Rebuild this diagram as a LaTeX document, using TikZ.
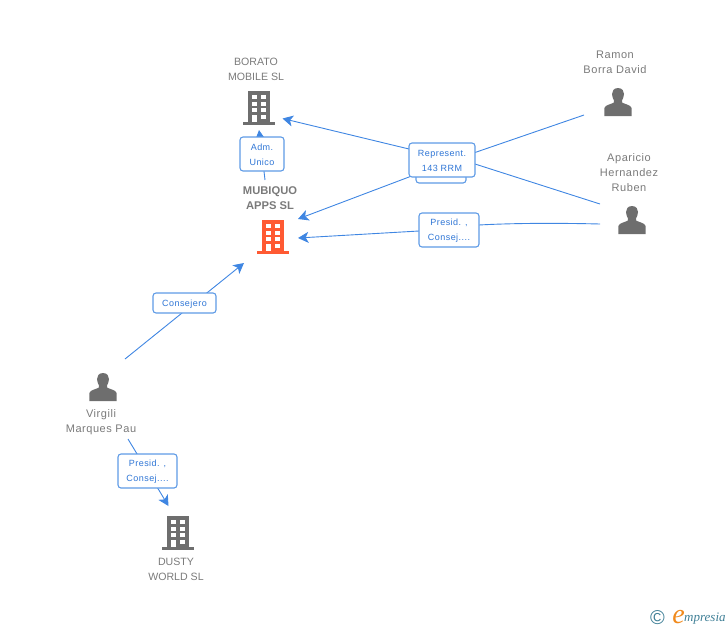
\documentclass[tikz,border=0pt]{standalone}
\usepackage{fontspec}
\setmainfont{Liberation Sans}
\newfontfamily\labfont[LetterSpace=5]{Liberation Sans}
\newfontfamily\namefont[LetterSpace=5]{Liberation Sans}
\newfontfamily\logofont{Liberation Serif}
\usetikzlibrary{arrows.meta}
\definecolor{linkblue}{HTML}{3F86E2}
\definecolor{boxblue}{HTML}{5F9BE6}
\definecolor{labblue}{HTML}{2F76D6}
\definecolor{icongray}{HTML}{6E6E6E}
\definecolor{namegray}{HTML}{7A7A7A}
\definecolor{iconred}{HTML}{FF5A33}
\definecolor{logoteal}{HTML}{3F7F96}
\definecolor{logoorange}{HTML}{F08A1D}
\newcommand{\tagline}[1]{\raisebox{-1pt}[\height][\depth]{#1}}
\tikzset{
  x=1pt,y=-1pt,
  link/.style={draw=linkblue,line width=0.9pt,line join=round},
  arrowtip/.style={-{Stealth[inset=2.8pt,length=10.5pt,width=11pt]}},
  tagbox/.style={draw=boxblue,line width=1.1pt,fill=white,rounded corners=3pt,inner sep=0pt,
    align=center,text=labblue,font=\labfont\fontsize{9}{15}\selectfont},
  ename/.style={align=center,text=namegray,inner sep=0pt,font=\fontsize{10.6}{15}\selectfont},
  pname/.style={ename,font=\namefont\fontsize{11}{15}\selectfont},
  bname/.style={ename,font=\bfseries\fontsize{11.2}{15}\selectfont},
  anchorbox/.style={inner sep=0pt,minimum width=32pt,minimum height=33pt},
  pics/building/.style={code={
    \fill[#1] (-11,-17) rectangle (11,14);
    \fill[#1] (-16,14) rectangle (16,16.5);
    \foreach \r in {-13,-6.5,0}{
      \fill[white] (-7,\r) rectangle (-2.2,\r+4);
      \fill[white] (2.4,\r) rectangle (7.2,\r+4);
    }
    \fill[white] (-7,6.5) rectangle (-2.2,14);
    \fill[white] (2.4,6.5) rectangle (7.2,11);
  }},
  pics/person/.style={code={
    \fill[icongray] (0,-14) .. controls (-4.5,-14) and (-6,-10.5) .. (-6,-8)
      .. controls (-6,-5) and (-4.8,-3.5) .. (-4.2,-2) -- (-4.2,0.5)
      .. controls (-7,2.5) and (-12.5,2.5) .. (-13.6,6) -- (-13.6,14) -- (13.6,14) -- (13.6,6)
      .. controls (12.5,2.5) and (7,2.5) .. (4.2,0.5) -- (4.2,-2)
      .. controls (4.8,-3.5) and (6,-5) .. (6,-8)
      .. controls (6,-10.5) and (4.5,-14) .. (0,-14) -- cycle;
  }}
}
\begin{document}
\begin{tikzpicture}
\useasboundingbox (0,0) rectangle (728,630);

% entities
\node[anchorbox] (borato) at (259,108) {};
\pic at (borato.center) {building={icongray}};
\node[anchorbox] (mubiquo) at (273,237) {};
\pic at (mubiquo.center) {building={iconred}};
\node[anchorbox] (dusty) at (178,533) {};
\pic at (dusty.center) {building={icongray}};
\node[anchorbox] (ramon) at (618,102) {};
\pic at (ramon.center) {person};
\node[anchorbox] (aparicio) at (632,220) {};
\pic at (aparicio.center) {person};
\node[anchorbox] (virgili) at (103,387) {};
\pic at (virgili.center) {person};

% names
\node[ename] (boratoname) at (256,69.5) {BORATO\\MOBILE SL};
\node[bname] (mubiquoname) at (270,198.5) {MUBIQUO\\APPS SL};
\node[ename] (dustyname) at (176,569.5) {DUSTY\\WORLD SL};
\node[pname] (ramonname) at (615,62.5) {Ramon\\Borra David};
\node[pname] (apariconame) at (629,173) {Aparicio\\Hernandez\\Ruben};
\node[pname] (virgiliname) at (101,422.5) {Virgili\\Marques Pau};

% connector ends
\coordinate (ramonOut) at (584,115);
\coordinate (aparicioOutA) at (600,204);
\coordinate (aparicioOutB) at (600,224);
\coordinate (virgiliOutA) at (125,359);
\coordinate (virgiliOutB) at (128,439);
\coordinate (mubiquoOut) at (265,180);
\coordinate (boratoInA) at (282.5,118.5);
\coordinate (boratoInB) at (259,130);
\coordinate (mubiquoInA) at (298,219);
\coordinate (mubiquoInB) at (298,238);
\coordinate (mubiquoInC) at (244,263);
\coordinate (dustyIn) at (168.5,506);
\coordinate (repE1) at (475,152.5);
\coordinate (repW1) at (409,177);
\coordinate (repE2) at (475,164);
\coordinate (repW2) at (409,149);
\coordinate (preE) at (479,225);
\coordinate (preW) at (419,231);
\coordinate (admC) at (262,154);

% connectors
\draw[link,arrowtip] (ramonOut) -- (repE1) -- (repW1) -- (mubiquoInA);
\draw[link,arrowtip] (aparicioOutA) -- (repE2) -- (repW2) -- (boratoInA);
\draw[link,arrowtip] (aparicioOutB) .. controls (560,223) and (515,223) .. (preE) -- (preW) -- (mubiquoInB);
\draw[link,arrowtip] (virgiliOutA) -- (mubiquoInC);
\draw[link,arrowtip] (virgiliOutB) -- (dustyIn);
\draw[link,arrowtip] (mubiquoOut) -- (admC) -- (boratoInB);

% connector labels
\node[tagbox,minimum width=50pt,minimum height=34pt] (hidden) at (441,166) {};
\node[tagbox,minimum width=66pt,minimum height=34pt] (represent) at (442,160) {\tagline{Represent.}\\\tagline{143 RRM}};
\node[tagbox,minimum width=44pt,minimum height=34pt] (adm) at (262,154) {\tagline{Adm.}\\\tagline{Unico}};
\node[tagbox,minimum width=60pt,minimum height=34pt] (presidA) at (449,230) {\tagline{Presid. ,}\\\tagline{Consej....}};
\node[tagbox,minimum width=63pt,minimum height=20pt] (consejero) at (184.5,303) {\tagline{Consejero}};
\node[tagbox,minimum width=59pt,minimum height=34pt] (presidB) at (147.5,471) {\tagline{Presid. ,}\\\tagline{Consej....}};

% logo
\node[inner sep=0pt,text=logoteal,font=\fontsize{20}{20}\selectfont] (copy) at (657.5,618) {©};
\node[inner sep=0pt,text=logoorange,font=\logofont\itshape\fontsize{28}{28}\selectfont] (logoe) at (678.5,617.5) {e};
\node[inner sep=0pt,anchor=west,text=logoteal,font=\logofont\itshape\fontsize{13}{14}\selectfont] (logotext) at (684,619) {mpresia};
\end{tikzpicture}
\end{document}
